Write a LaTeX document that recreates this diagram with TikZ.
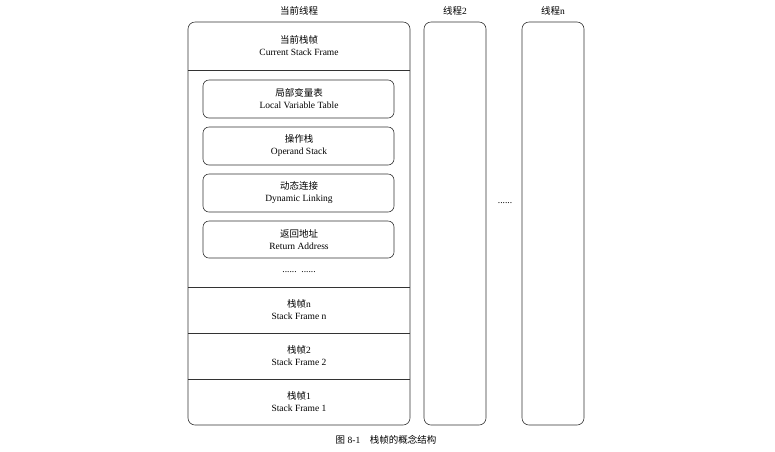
\documentclass[tikz,border=0pt]{standalone}
\usepackage{fontspec}
\setmainfont{Liberation Serif}
\newfontfamily\cjk{Noto Sans CJK SC}
\begin{document}
\begin{tikzpicture}[x=1pt,y=-1pt,
  outer/.style={draw=black!80,line width=0.6pt,rounded corners=7pt},
  inner/.style={draw=black!80,line width=0.6pt,rounded corners=6pt},
  lbl/.style={align=center,font=\fontsize{9.5}{12}\selectfont,inner sep=0pt}]
\useasboundingbox (0,0) rectangle (775,451);
\fill[white] (0,0) rectangle (775,451);
\draw[outer] (188,22) rectangle (410,425);
\draw[outer] (424,22) rectangle (486,425);
\draw[outer] (522,22) rectangle (584,425);
\coordinate (l1) at (188,70); \coordinate (r1) at (410,70);
\coordinate (l2) at (188,287); \coordinate (r2) at (410,287);
\coordinate (l3) at (188,333); \coordinate (r3) at (410,333);
\coordinate (l4) at (188,379); \coordinate (r4) at (410,379);
\draw[black!80,line width=0.6pt] (l1)--(r1) (l2)--(r2) (l3)--(r3) (l4)--(r4);
\node[lbl] (h1) at (299,11) {{\cjk 当前线程}};
\node[lbl] (h2) at (455,11) {{\cjk 线程}2};
\node[lbl] (h3) at (553,11) {{\cjk 线程}n};
\node[lbl] (cf) at (299,46) {{\cjk 当前栈帧}\\Current Stack Frame};
\draw[inner] (203,80) rectangle (394,118);
\node[lbl] (lv) at (299,99) {{\cjk 局部变量表}\\Local Variable Table};
\draw[inner] (203,127) rectangle (394,165);
\node[lbl] (os) at (299,146) {{\cjk 操作栈}\\Operand Stack};
\draw[inner] (203,174) rectangle (394,212);
\node[lbl] (dl) at (299,193) {{\cjk 动态连接}\\Dynamic Linking};
\draw[inner] (203,221) rectangle (394,258);
\node[lbl] (ra) at (299,240) {{\cjk 返回地址}\\Return Address};
\node[lbl] (dots) at (299,272) {......\ \ ......};
\node[lbl] (sn) at (299,310) {{\cjk 栈帧}n\\Stack Frame n};
\node[lbl] (s2) at (299,356) {{\cjk 栈帧}2\\Stack Frame 2};
\node[lbl] (s1) at (299,402) {{\cjk 栈帧}1\\Stack Frame 1};
\node[lbl] (md) at (505,203) {......};
\node[lbl] (cap) at (386,440) {{\cjk 图} 8-1\quad {\cjk 栈帧的概念结构}};
\end{tikzpicture}
\end{document}
